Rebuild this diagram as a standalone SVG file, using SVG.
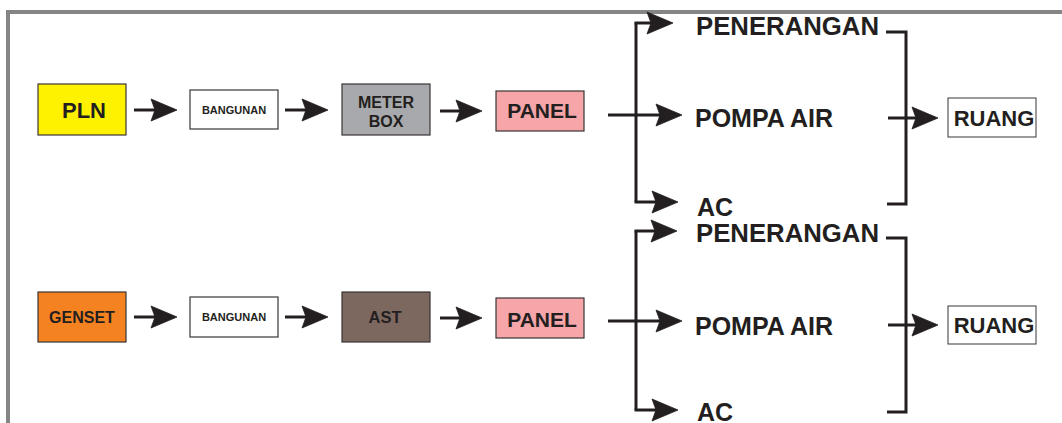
<svg xmlns="http://www.w3.org/2000/svg" xmlns:xlink="http://www.w3.org/1999/xlink" width="1062" height="423" viewBox="0 0 1062 423">
<style>
.box{stroke:#3a3536;stroke-width:1.2}
.t{font-family:"Liberation Sans",Arial,sans-serif;font-weight:bold;fill:#231F20;text-anchor:middle}
.l{font-family:"Liberation Sans",Arial,sans-serif;font-weight:bold;fill:#231F20;font-size:25px}
.c{fill:none;stroke:#231F20;stroke-width:3}
.ah{fill:#231F20;stroke:#231F20;stroke-width:0.8;stroke-linejoin:miter}
</style>
<defs>
<path id="ah" d="M-26,-11 L0,0 L-26,11 L-22,0 Z"/>
</defs>
<rect width="1062" height="423" fill="#fff"/>
<path d="M8,423 V12 H1062" fill="none" stroke="#858585" stroke-width="4"/>

<g id="row1">
<g id="pln"><rect class="box" x="38" y="84" width="88" height="51" fill="#FFF200"/><text class="t" x="84" y="118" font-size="22">PLN</text></g>
<g id="bangunan1"><rect class="box" x="190" y="90" width="88" height="39" fill="#fff"/><text class="t" x="234" y="114" font-size="11">BANGUNAN</text></g>
<g id="meterbox"><rect class="box" x="342" y="84" width="88" height="51" fill="#A7A9AC"/><text class="t" x="386" y="108" font-size="16">METER</text><text class="t" x="386" y="127" font-size="16">BOX</text></g>
<g id="panel1"><rect class="box" x="496" y="91" width="88" height="40" fill="#F6A5A8"/><text class="t" x="542" y="118" font-size="21">PANEL</text></g>
<g id="penerangan1"><text class="l" x="696" y="35" textLength="183" lengthAdjust="spacingAndGlyphs">PENERANGAN</text></g>
<g id="pompa1"><text class="l" x="695" y="127">POMPA AIR</text></g>
<g id="ac1"><text class="l" x="697" y="216">AC</text></g>
<g id="ruang1"><rect x="948" y="98" width="88" height="39" fill="#fff" stroke="#3a3536" stroke-width="1"/><text class="t" x="994" y="126" font-size="22">RUANG</text></g>
</g>

<g id="row2">
<g id="genset"><rect class="box" x="38" y="292" width="88" height="50" fill="#F58220"/><text class="t" x="82" y="323" font-size="16">GENSET</text></g>
<g id="bangunan2"><rect class="box" x="190" y="297" width="88" height="40" fill="#fff"/><text class="t" x="234" y="321" font-size="11">BANGUNAN</text></g>
<g id="ast"><rect class="box" x="342" y="292" width="88" height="50" fill="#7D6860"/><text class="t" x="385" y="323" font-size="16.5">AST</text></g>
<g id="panel2"><rect class="box" x="496" y="298" width="88" height="40" fill="#F6A5A8"/><text class="t" x="542" y="327" font-size="21">PANEL</text></g>
<g id="penerangan2"><text class="l" x="696" y="242" textLength="183" lengthAdjust="spacingAndGlyphs">PENERANGAN</text></g>
<g id="pompa2"><text class="l" x="695" y="335">POMPA AIR</text></g>
<g id="ac2"><text class="l" x="697" y="421">AC</text></g>
<g id="ruang2"><rect x="948" y="306" width="88" height="38" fill="#fff" stroke="#3a3536" stroke-width="1"/><text class="t" x="994" y="333" font-size="22">RUANG</text></g>
</g>

<g id="connectors">
<path class="c" d="M134,110 H158"/><use href="#ah" xlink:href="#ah" class="ah" x="177" y="110"/>
<path class="c" d="M285,110 H309"/><use href="#ah" xlink:href="#ah" class="ah" x="328" y="110"/>
<path class="c" d="M440,111 H463"/><use href="#ah" xlink:href="#ah" class="ah" x="482" y="111"/>
<path class="c" d="M608,115 H663"/><use href="#ah" xlink:href="#ah" class="ah" x="682" y="115"/>
<path class="c" d="M636,23 V202"/>
<path class="c" d="M634.5,23 H654"/><use href="#ah" xlink:href="#ah" class="ah" x="673" y="23"/>
<path class="c" d="M634.5,202 H659"/><use href="#ah" xlink:href="#ah" class="ah" x="678" y="202"/>
<path class="c" d="M886,32 H906 V204 H887"/>
<path class="c" d="M888,118 H919"/><use href="#ah" xlink:href="#ah" class="ah" x="938" y="118"/>

<path class="c" d="M134,317 H158"/><use href="#ah" xlink:href="#ah" class="ah" x="177" y="317"/>
<path class="c" d="M285,317 H309"/><use href="#ah" xlink:href="#ah" class="ah" x="328" y="317"/>
<path class="c" d="M440,318 H463"/><use href="#ah" xlink:href="#ah" class="ah" x="482" y="318"/>
<path class="c" d="M608,321 H663"/><use href="#ah" xlink:href="#ah" class="ah" x="682" y="321"/>
<path class="c" d="M636,231 V410"/>
<path class="c" d="M634.5,231 H658"/><use href="#ah" xlink:href="#ah" class="ah" x="677" y="231"/>
<path class="c" d="M634.5,410 H659"/><use href="#ah" xlink:href="#ah" class="ah" x="678" y="410"/>
<path class="c" d="M886,238 H906 V412 H887"/>
<path class="c" d="M888,325 H919"/><use href="#ah" xlink:href="#ah" class="ah" x="938" y="325"/>
</g>
</svg>
